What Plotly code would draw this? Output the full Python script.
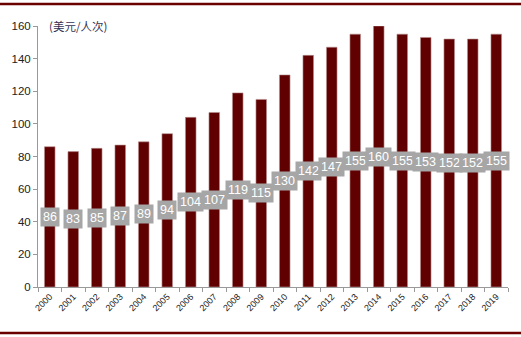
import plotly.graph_objects as go

years = [str(y) for y in range(2000, 2020)]
values = [86, 83, 85, 87, 89, 94, 104, 107, 119, 115, 130, 142, 147, 155, 160, 155, 153, 152, 152, 155]
y_ticks = [0, 20, 40, 60, 80, 100, 120, 140, 160]
unit_label = "(美元/人次)"

fig = go.Figure()
fig.add_trace(go.Bar(
    x=years, y=values,
    marker=dict(color="#600000", line=dict(color="#b89090", width=0.6)),
    width=0.45,
    hoverinfo="skip",
))

for i, v in enumerate(values):
    fig.add_annotation(
        x=i, y=v / 2, text=str(v), showarrow=False,
        bgcolor="#A6A6A6", font=dict(color="white", size=12.5, family="Liberation Sans, Arial"),
        borderpad=2, xref="x", yref="y",
    )

fig.add_annotation(
    x=0.02, y=1.0, xref="paper", yref="paper", text=unit_label, showarrow=False,
    xanchor="left", yanchor="middle",
    font=dict(size=11.5, color="#333355", family="Noto Sans CJK SC, Liberation Sans"),
)

line_color = "#6b0000"
fig.add_shape(type="line", xref="paper", yref="paper", x0=-0.085, x1=1.03, y0=1.084, y1=1.084,
              line=dict(color=line_color, width=2.5))
fig.add_shape(type="line", xref="paper", yref="paper", x0=-0.085, x1=1.03, y0=-0.176, y1=-0.176,
              line=dict(color=line_color, width=2.5))

fig.update_layout(
    width=521, height=337,
    margin=dict(l=38, r=13, t=26, b=50),
    paper_bgcolor="white", plot_bgcolor="white",
    showlegend=False,
    font=dict(family="Liberation Sans, Arial", color="#222222"),
    xaxis=dict(
        type="category", range=[-0.5, len(years) - 0.5], showline=True, linecolor="#999999", linewidth=1,
        ticks="outside", tickson="boundaries", ticklen=4, tickcolor="#999999",
        tickangle=-45, tickfont=dict(size=9, color="#222222"), showgrid=False,
    ),
    yaxis=dict(
        range=[0, 160], tickvals=y_ticks, showline=True, linecolor="#999999", linewidth=1,
        ticks="outside", ticklen=4, tickcolor="#999999", showgrid=False, zeroline=False,
        tickfont=dict(size=11.5, color="#222222"),
    ),
)

fig.write_html("out.html")
